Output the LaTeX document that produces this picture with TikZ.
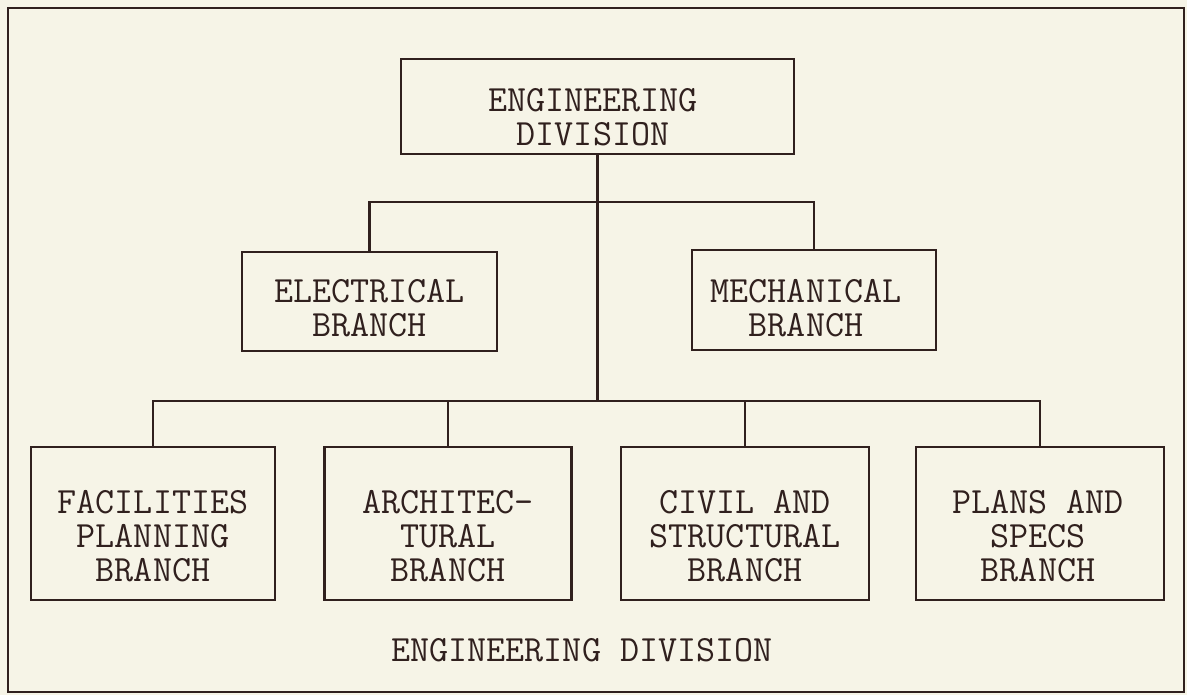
\documentclass[tikz,border=0pt]{standalone}
\definecolor{bgc}{RGB}{246,244,231}
\definecolor{ink}{RGB}{48,32,30}
\begin{document}
\begin{tikzpicture}[x=1pt,y=-1pt,
  box/.style={draw=ink,line width=2.4pt,rectangle,inner sep=0pt},
  txt/.style={text=ink,align=center,font=\ttfamily\fontsize{37}{34}\selectfont,inner sep=0pt},
  conn/.style={draw=ink,line width=2.2pt}]
\fill[bgc] (0,0) rectangle (1187,695);
\useasboundingbox (0,0) rectangle (1187,695);
\draw[ink,line width=2.2pt] (8,8) rectangle (1184,692);
% boxes
\node[box,minimum width=393pt,minimum height=95pt] (top) at (597.5,106.5) {};
\node[box,minimum width=255pt,minimum height=99pt] (elec) at (369.5,301.5) {};
\node[box,minimum width=244pt,minimum height=100pt] (mech) at (814,300) {};
\node[box,minimum width=244pt,minimum height=153pt] (fac) at (153,523.5) {};
\node[box,minimum width=247pt,minimum height=153pt] (arch) at (448,523.5) {};
\node[box,minimum width=248pt,minimum height=153pt] (civ) at (745,523.5) {};
\node[box,minimum width=248pt,minimum height=153pt] (plans) at (1040,523.5) {};
% texts
\node[txt] (ttop) at (593,117) {ENGINEERING\\DIVISION};
\node[txt] (telec) at (369.5,308) {ELECTRICAL\\BRANCH};
\node[txt] (tmech) at (806,308) {MECHANICAL\\BRANCH};
\node[txt] (tfac) at (153,536) {FACILITIES\\PLANNING\\BRANCH};
\node[txt] (tarch) at (448,536) {ARCHITEC-\\TURAL\\BRANCH};
\node[txt] (tciv) at (745,536) {CIVIL AND\\STRUCTURAL\\BRANCH};
\node[txt] (tplans) at (1038,536) {PLANS AND\\SPECS\\BRANCH};
\node[txt] (caption) at (582,650) {ENGINEERING DIVISION};
% connectors
\coordinate (bus1) at (597.5,202);
\coordinate (bus2) at (597.5,401);
\draw[conn] (top.south) -- (top.south |- bus2);
\draw[conn] (elec.north) -- (elec.north |- bus1) -- (mech.north |- bus1) -- (mech.north);
\draw[conn] (fac.north) -- (fac.north |- bus2) -- (plans.north |- bus2) -- (plans.north);
\draw[conn] (arch.north) -- (arch.north |- bus2);
\draw[conn] (civ.north) -- (civ.north |- bus2);
\end{tikzpicture}
\end{document}
